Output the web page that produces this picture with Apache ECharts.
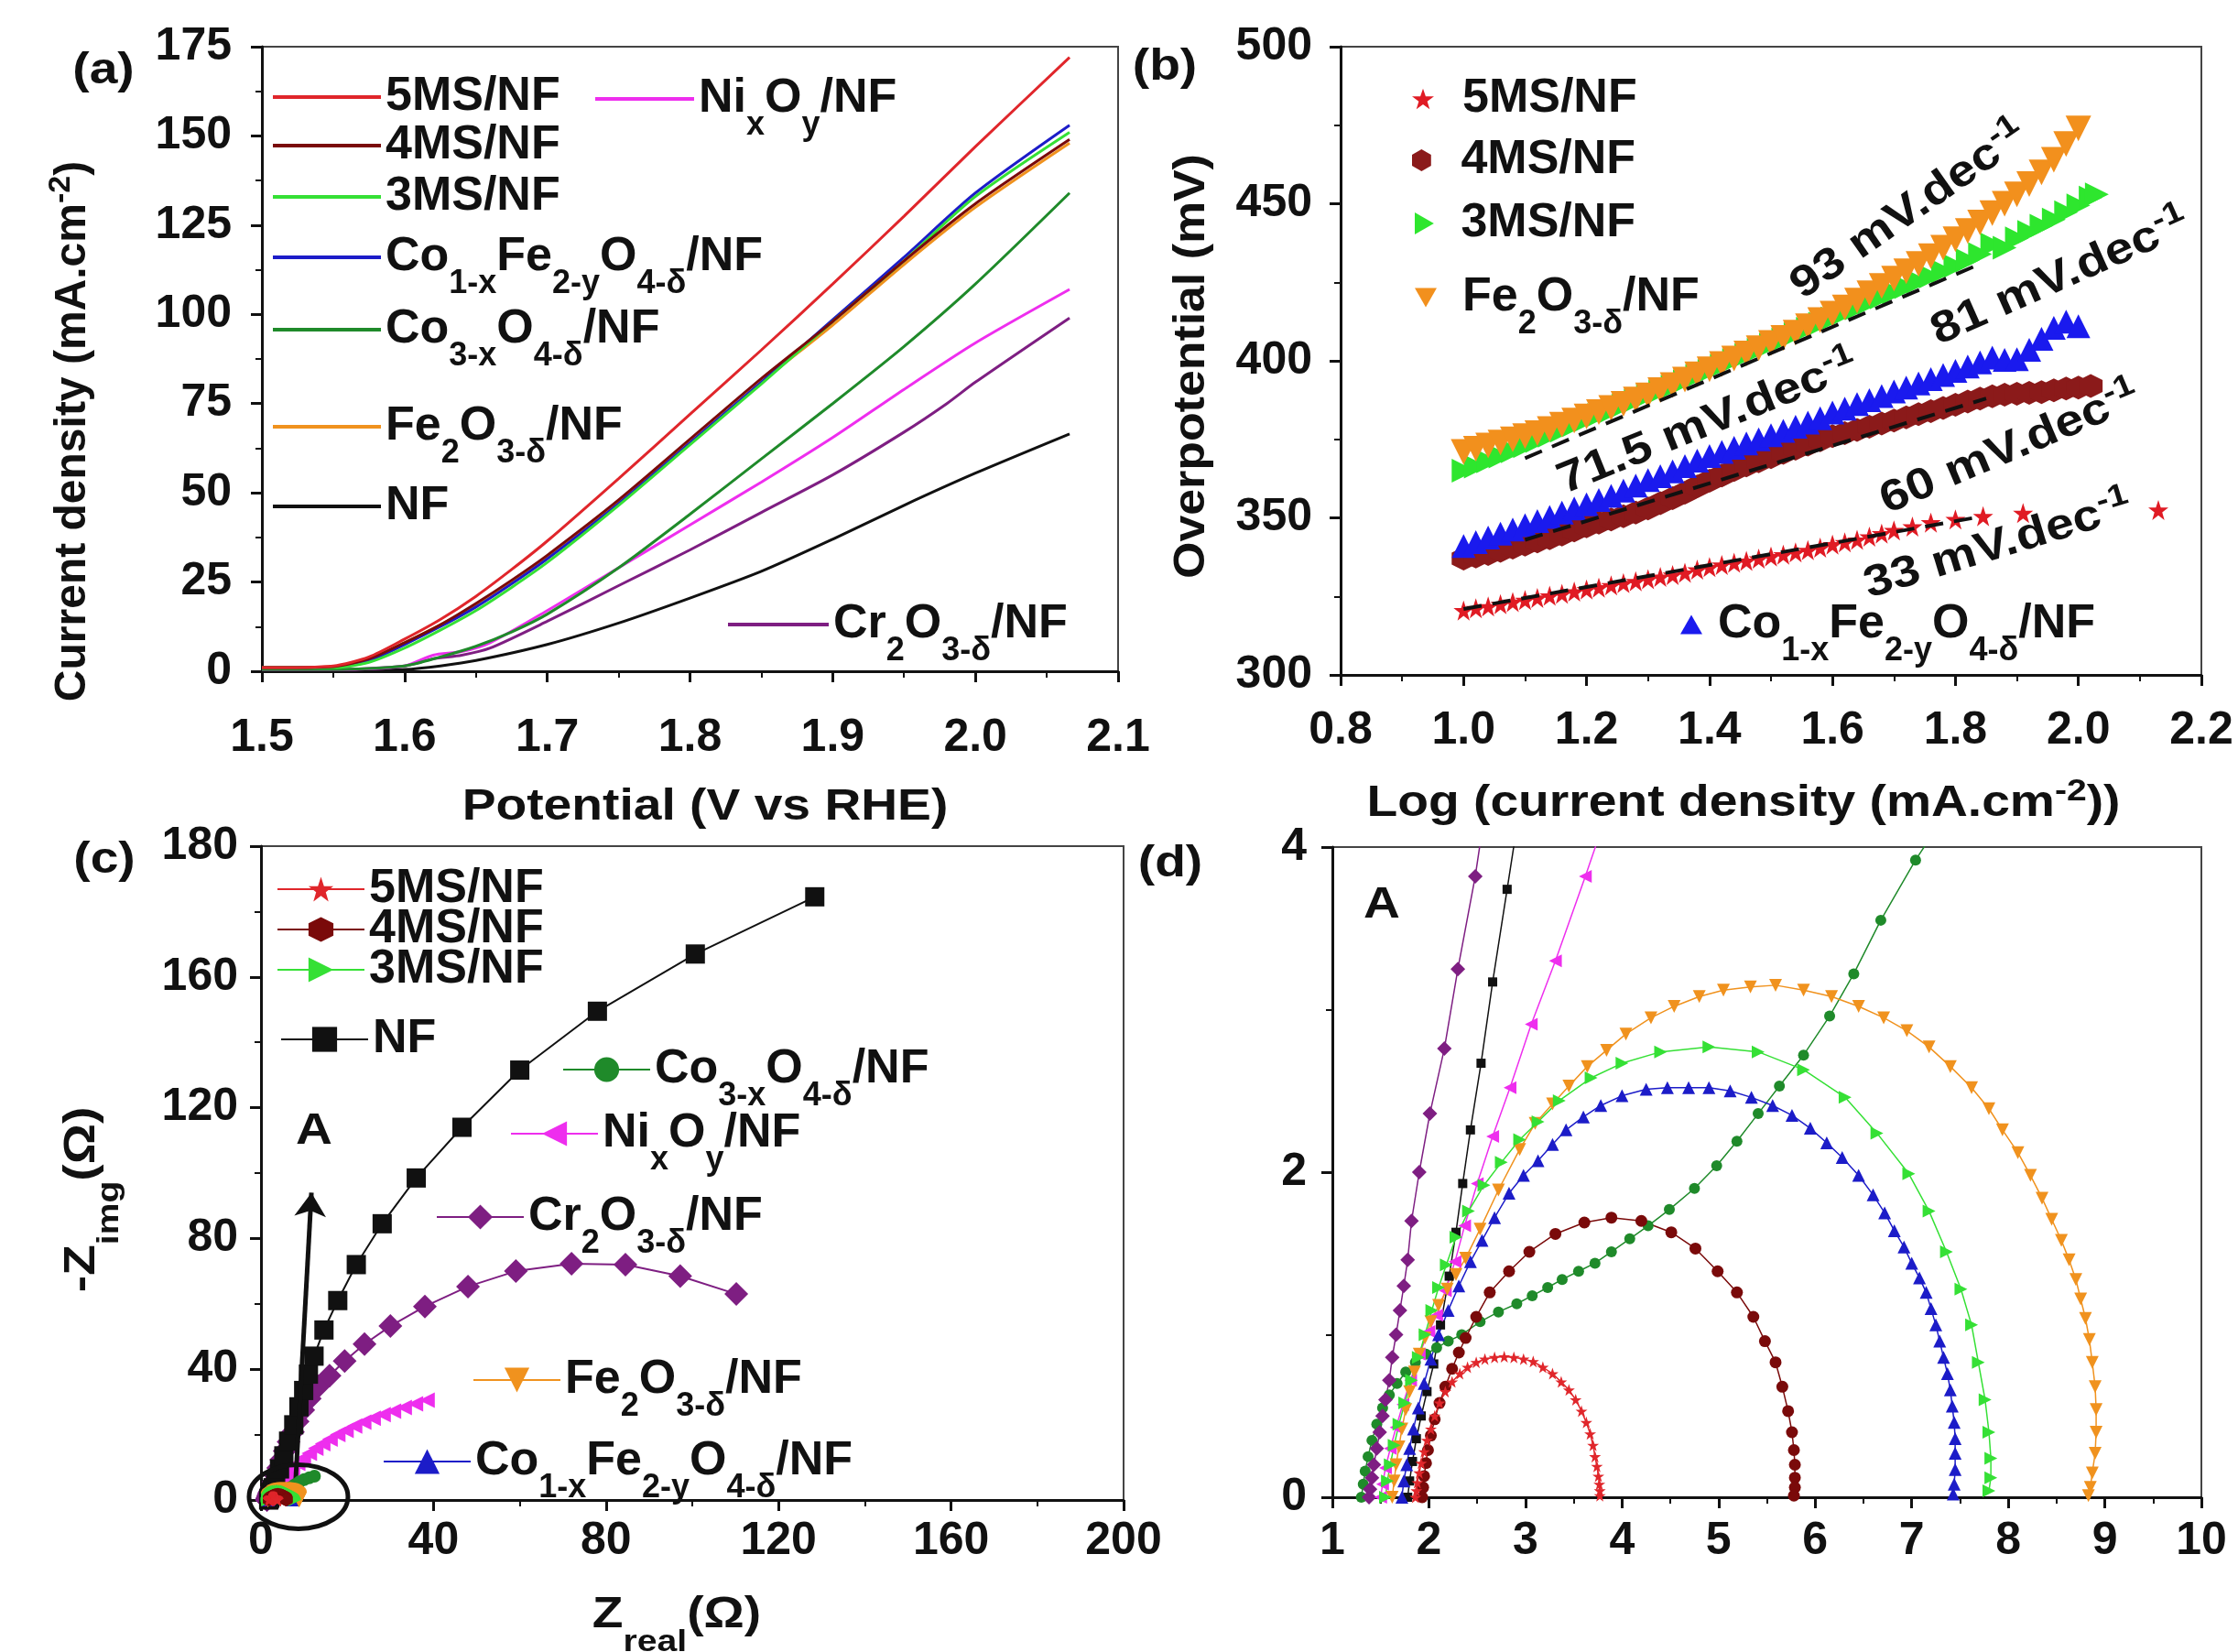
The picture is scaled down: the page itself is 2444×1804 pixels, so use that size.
<!DOCTYPE html>
<html>
<head>
<meta charset="utf-8">
<script src="https://cdn.jsdelivr.net/npm/echarts@6/dist/echarts.min.js"></script>
<style>
html, body { margin: 0; padding: 0; background: #fff; }
#chart { width: 2444px; height: 1804px; }
</style>
</head>
<body>
<div id="chart"></div>
<script>
// (a) LSV: [potential V vs RHE, current density mA/cm2]
const lsv5MS = [[1.5,1],[1.55,1.5],[1.575,4],[1.6,9],[1.625,14.5],[1.65,21],[1.675,28.5],[1.7,36.5],[1.75,54],[1.8,72],[1.85,90],[1.9,108.5],[1.95,127.5],[2.0,147],[2.066,172]];
const lsv4MS = [[1.5,1],[1.55,1.3],[1.575,3.5],[1.6,8],[1.625,13],[1.65,19],[1.675,25.5],[1.7,32.5],[1.75,48],[1.8,65],[1.85,82],[1.9,98],[1.95,115],[2.0,131],[2.066,149]];
const lsv3MS = [[1.5,1],[1.55,1],[1.575,2.5],[1.6,6.5],[1.625,11.5],[1.65,17],[1.675,23.5],[1.7,30.5],[1.75,46.5],[1.8,63.5],[1.85,80.5],[1.9,98],[1.95,115],[2.0,133],[2.066,151]];
const lsvCoFe = [[1.5,1],[1.55,1.2],[1.575,3],[1.6,7.5],[1.625,12.5],[1.65,18],[1.675,24.5],[1.7,31.5],[1.75,47],[1.8,64],[1.85,81],[1.9,98.5],[1.95,116],[2.0,134],[2.066,153]];
const lsvCo3 = [[1.5,0.5],[1.55,0.5],[1.6,1.5],[1.625,4],[1.65,7],[1.675,11],[1.7,16],[1.75,29],[1.8,44],[1.85,59.5],[1.9,75],[1.95,91],[2.0,108.5],[2.066,134]];
const lsvFe = [[1.5,1],[1.55,1.3],[1.575,3.5],[1.6,8],[1.625,13],[1.65,18.5],[1.675,25],[1.7,32],[1.75,47.5],[1.8,64],[1.85,81],[1.9,97],[1.95,114],[2.0,130],[2.066,148]];
const lsvNF = [[1.5,0],[1.55,0],[1.6,0.5],[1.625,1.5],[1.65,3],[1.7,7.5],[1.75,13.5],[1.8,20.5],[1.85,28],[1.9,37],[1.95,46.5],[2.0,55.5],[2.066,66.5]];
const lsvNi = [[1.5,0.5],[1.55,0.5],[1.6,1.5],[1.62,4.5],[1.64,5.5],[1.66,8],[1.7,17],[1.75,29],[1.8,41],[1.85,53],[1.9,65.5],[1.95,79],[2.0,92],[2.066,107]];
const lsvCr = [[1.5,0.5],[1.55,0.5],[1.6,1.5],[1.62,3.5],[1.64,4.5],[1.66,6.5],[1.7,14],[1.75,24],[1.8,34],[1.85,44.5],[1.9,55],[1.95,67],[1.98,75],[2.0,81],[2.066,99]];

// (b) Tafel: [log j, overpotential mV]
const tafel5MS = [[1.0,320.5],[1.02,321.2],[1.04,321.8],[1.06,322.5],[1.08,323.2],[1.1,323.8],[1.12,324.5],[1.14,325.2],[1.16,325.8],[1.18,326.5],[1.2,327.2],[1.22,327.8],[1.24,328.5],[1.26,329.2],[1.28,329.8],[1.3,330.5],[1.32,331.2],[1.34,331.8],[1.36,332.5],[1.38,333.5],[1.4,334.3],[1.42,335],[1.44,335.7],[1.46,336.3],[1.48,337],[1.5,337.7],[1.52,338.3],[1.54,339],[1.56,339.7],[1.58,340.5],[1.6,341.5],[1.62,342.2],[1.64,343],[1.66,344],[1.68,345],[1.7,346],[1.73,347.2],[1.76,348.5],[1.8,349.5],[1.845,350.5],[1.91,351.5],[2.13,352.5]];
const tafel4MS = [[1.0,337],[1.02,337.7],[1.04,338.5],[1.06,339.5],[1.08,340.5],[1.1,341.5],[1.12,342.5],[1.14,343.5],[1.16,344.7],[1.18,346],[1.2,347.3],[1.22,348.5],[1.24,349.5],[1.26,350.5],[1.28,351.7],[1.3,353],[1.32,354.7],[1.34,356.3],[1.36,358],[1.38,360],[1.4,361.8],[1.42,363.5],[1.44,365.2],[1.46,366.7],[1.48,368],[1.5,369.3],[1.52,370.7],[1.54,372],[1.56,373.3],[1.58,374.7],[1.6,376],[1.62,377],[1.64,378],[1.66,379],[1.68,380],[1.7,381],[1.72,382],[1.74,383],[1.76,384],[1.78,385],[1.8,386],[1.82,387],[1.84,388],[1.86,388.7],[1.88,389.2],[1.9,389.5],[1.92,389.8],[1.94,390],[1.96,390.6],[1.98,391.2],[2.0,391.5],[2.02,392]];
const tafelCoFe = [[1.0,341],[1.02,342.3],[1.04,343.7],[1.06,345],[1.08,346.3],[1.1,347.7],[1.12,349],[1.14,350.3],[1.16,351.7],[1.18,353],[1.2,354.3],[1.22,355.7],[1.24,357],[1.26,358.7],[1.28,360.3],[1.3,362],[1.32,363.3],[1.34,364.8],[1.36,366.5],[1.38,368.2],[1.4,369.7],[1.42,371],[1.44,372.3],[1.46,373.7],[1.48,375],[1.5,376.3],[1.52,377.7],[1.54,379],[1.56,380.3],[1.58,381.7],[1.6,383.5],[1.62,384.8],[1.64,386.2],[1.66,387.5],[1.68,388.8],[1.7,390.2],[1.72,391.5],[1.74,392.8],[1.76,394.2],[1.78,395.5],[1.8,396.8],[1.82,398.2],[1.84,399.5],[1.86,401],[1.88,400.3],[1.9,400.5],[1.92,403.5],[1.94,407],[1.96,410.5],[1.98,412.5],[2.0,411]];
const tafel3MS = [[1.0,365],[1.02,366.3],[1.04,368],[1.06,369.5],[1.08,371.2],[1.1,372.8],[1.12,374.5],[1.14,376.2],[1.16,377.8],[1.18,379.5],[1.2,381.2],[1.22,382.7],[1.24,384],[1.26,385.7],[1.28,387.3],[1.3,389],[1.32,390.3],[1.34,391.8],[1.36,393.5],[1.38,395.2],[1.4,396.8],[1.42,398.5],[1.44,400.2],[1.46,401.8],[1.48,403.5],[1.5,405.2],[1.52,406.8],[1.54,408.5],[1.56,410.2],[1.58,411.8],[1.6,413.5],[1.62,415.2],[1.64,416.8],[1.66,418.5],[1.68,420.2],[1.7,421.8],[1.72,423.5],[1.74,425.2],[1.76,426.8],[1.78,428.5],[1.8,430.2],[1.82,432],[1.84,434],[1.86,437],[1.88,436],[1.9,439],[1.92,441],[1.94,443],[1.96,445],[1.98,447.3],[2.0,449.5],[2.02,452],[2.03,453]];
const tafelFe = [[1.0,371],[1.02,372],[1.04,373],[1.06,374],[1.08,375],[1.1,376],[1.12,377],[1.14,378.3],[1.16,379.7],[1.18,381],[1.2,382.3],[1.22,383.7],[1.24,385],[1.26,386.3],[1.28,387.7],[1.3,389],[1.32,390.7],[1.34,392.3],[1.36,394],[1.38,395.7],[1.4,397.3],[1.42,399],[1.44,400.7],[1.46,402.3],[1.48,404],[1.5,405.7],[1.52,407.3],[1.54,409],[1.56,411],[1.58,413],[1.6,415],[1.62,417],[1.64,419.2],[1.66,421.5],[1.68,423.8],[1.7,426.2],[1.72,428.5],[1.74,430.8],[1.76,433.3],[1.78,436],[1.8,438.7],[1.82,441.3],[1.84,444],[1.86,447],[1.88,450],[1.9,453],[1.92,456.3],[1.94,460],[1.96,464],[1.98,469],[2.0,474]];
const fitFe = [[1.1,369],[1.83,430]];
const fit4MS = [[1.1,343],[1.85,388]];
const fit5MS = [[1.0,321],[1.83,350]];

// (d) Nyquist close-up: [Z real, -Z img] in ohm; tails extend them for (c)
const nyq5MS = [[1.86,0],[1.87,0.04],[1.88,0.09],[1.9,0.15],[1.92,0.21],[1.95,0.28],[1.98,0.35],[2.02,0.42],[2.06,0.5],[2.11,0.58],[2.17,0.65],[2.24,0.71],[2.32,0.76],[2.4,0.8],[2.49,0.83],[2.58,0.85],[2.68,0.86],[2.78,0.865],[2.88,0.86],[2.98,0.85],[3.08,0.835],[3.18,0.8],[3.28,0.76],[3.37,0.71],[3.45,0.66],[3.52,0.6],[3.58,0.53],[3.63,0.46],[3.67,0.39],[3.7,0.32],[3.72,0.25],[3.74,0.19],[3.755,0.13],[3.765,0.08],[3.77,0.04],[3.77,0.01]];
const nyq4MS = [[1.93,0],[1.94,0.06],[1.95,0.13],[1.97,0.21],[1.99,0.29],[2.02,0.38],[2.06,0.48],[2.11,0.58],[2.17,0.68],[2.24,0.79],[2.31,0.89],[2.38,0.98],[2.49,1.11],[2.63,1.26],[2.83,1.39],[3.04,1.51],[3.31,1.62],[3.61,1.69],[3.89,1.72],[4.2,1.7],[4.51,1.63],[4.76,1.53],[4.99,1.39],[5.19,1.26],[5.36,1.11],[5.48,0.96],[5.59,0.83],[5.66,0.68],[5.72,0.53],[5.76,0.4],[5.78,0.29],[5.79,0.2],[5.79,0.12],[5.79,0.06],[5.78,0.01]];
const nyq3MS = [[1.55,0],[1.57,0.1],[1.6,0.2],[1.64,0.32],[1.69,0.45],[1.75,0.58],[1.82,0.72],[1.89,0.86],[1.96,1.0],[2.03,1.15],[2.1,1.29],[2.18,1.43],[2.28,1.6],[2.41,1.76],[2.57,1.92],[2.75,2.06],[2.94,2.2],[3.13,2.31],[3.35,2.44],[3.68,2.58],[4.0,2.67],[4.4,2.74],[4.9,2.77],[5.41,2.74],[5.88,2.63],[6.31,2.46],[6.64,2.24],[6.97,1.99],[7.18,1.76],[7.36,1.51],[7.51,1.28],[7.62,1.06],[7.69,0.83],[7.76,0.6],[7.8,0.4],[7.82,0.24],[7.82,0.12],[7.8,0.04]];
const nyqCoFe = [[1.72,0],[1.74,0.1],[1.77,0.2],[1.8,0.3],[1.84,0.42],[1.89,0.55],[1.95,0.7],[2.02,0.85],[2.1,1.0],[2.2,1.15],[2.31,1.3],[2.43,1.45],[2.55,1.58],[2.68,1.72],[2.83,1.87],[2.98,1.98],[3.13,2.07],[3.28,2.17],[3.42,2.26],[3.6,2.34],[3.78,2.41],[4.0,2.47],[4.25,2.51],[4.47,2.52],[4.69,2.52],[4.9,2.52],[5.12,2.5],[5.34,2.46],[5.56,2.41],[5.76,2.35],[5.95,2.27],[6.12,2.18],[6.28,2.09],[6.45,1.98],[6.6,1.86],[6.72,1.75],[6.82,1.64],[6.92,1.54],[7.0,1.44],[7.08,1.35],[7.15,1.26],[7.2,1.16],[7.25,1.06],[7.29,0.96],[7.33,0.86],[7.37,0.76],[7.4,0.66],[7.42,0.56],[7.44,0.46],[7.45,0.36],[7.45,0.27],[7.45,0.17],[7.44,0.08],[7.43,0.02]];
const nyqFe = [[1.62,0],[1.64,0.1],[1.66,0.2],[1.69,0.31],[1.72,0.42],[1.76,0.54],[1.8,0.65],[1.85,0.77],[1.9,0.88],[1.96,0.98],[2.02,1.08],[2.1,1.18],[2.19,1.28],[2.28,1.37],[2.38,1.47],[2.53,1.65],[2.72,1.89],[2.94,2.14],[3.1,2.3],[3.28,2.42],[3.45,2.53],[3.64,2.65],[3.84,2.75],[4.04,2.85],[4.3,2.95],[4.54,3.02],[4.8,3.08],[5.05,3.12],[5.33,3.14],[5.59,3.15],[5.88,3.12],[6.17,3.08],[6.45,3.02],[6.71,2.95],[6.95,2.87],[7.18,2.77],[7.4,2.65],[7.62,2.52],[7.8,2.39],[7.94,2.26],[8.1,2.12],[8.23,1.98],[8.35,1.84],[8.45,1.71],[8.55,1.58],[8.63,1.46],[8.7,1.34],[8.75,1.22],[8.8,1.1],[8.84,0.97],[8.87,0.83],[8.9,0.68],[8.91,0.54],[8.91,0.4],[8.9,0.27],[8.87,0.15],[8.85,0.06],[8.83,0.01]];
const nyqCo3 = [[1.3,0],[1.32,0.08],[1.34,0.16],[1.37,0.25],[1.41,0.35],[1.46,0.45],[1.52,0.55],[1.59,0.63],[1.67,0.7],[1.76,0.77],[1.86,0.83],[1.97,0.88],[2.08,0.92],[2.2,0.96],[2.34,1.0],[2.53,1.08],[2.72,1.14],[2.91,1.19],[3.07,1.24],[3.23,1.29],[3.38,1.34],[3.55,1.39],[3.72,1.44],[3.89,1.51],[4.08,1.59],[4.27,1.67],[4.49,1.77],[4.75,1.9],[4.98,2.04],[5.19,2.19],[5.41,2.36],[5.63,2.53],[5.88,2.72],[6.15,2.96],[6.4,3.22],[6.68,3.55],[7.04,3.92]];
const nyqCr = [[1.38,0],[1.39,0.05],[1.41,0.12],[1.43,0.2],[1.46,0.3],[1.49,0.4],[1.52,0.5],[1.55,0.6],[1.59,0.72],[1.62,0.86],[1.66,1.0],[1.7,1.15],[1.74,1.3],[1.78,1.46],[1.82,1.7],[1.9,2.0],[2.01,2.36],[2.16,2.76],[2.3,3.25],[2.48,3.82]];
const nyqNF = [[1.78,0],[1.8,0.1],[1.83,0.22],[1.87,0.36],[1.92,0.5],[1.98,0.65],[2.05,0.82],[2.12,1.06],[2.21,1.36],[2.28,1.63],[2.35,1.93],[2.43,2.26],[2.54,2.67],[2.66,3.17],[2.81,3.74]];
const nyqNi = [[1.5,0],[1.52,0.08],[1.55,0.18],[1.6,0.3],[1.66,0.43],[1.73,0.57],[1.81,0.72],[1.9,0.88],[2.0,1.02],[2.08,1.12],[2.17,1.27],[2.27,1.45],[2.37,1.67],[2.5,1.93],[2.66,2.22],[2.84,2.52],[3.06,2.91],[3.31,3.3],[3.62,3.82]];
const co3Tail = [[7.9,4.7],[8.9,5.5],[10,6.2],[11.2,6.8],[12.4,7.3]];
const crTail = [[2.9,5.5],[3.4,7.5],[4,9.8],[4.7,12.3],[5.5,15],[6.4,17.8],[7.4,20.8],[8.5,24],[9.8,27.5],[11.3,31],[13.3,34.7],[15.9,38],[19.4,42.5],[24,47.7],[30,53.2],[38,59.2],[48,65.3],[59.1,70],[72,72.3],[84.5,72],[97.2,68.5],[110.2,63]];
const nfTail = [[3.4,6],[4.3,9.5],[5.3,13.5],[6.4,18],[7.6,23],[8.8,28.5],[9.9,33.5],[11,38.5],[12.3,44],[14.6,52],[17.8,61],[22.1,72],[28.1,84.5],[36,98.5],[46.6,114],[60,131.5],[78,149.5],[100.7,167],[128.4,184.5]];
const niTail = [[4.3,5],[5.2,6.5],[6.2,8],[7.3,9.6],[8.5,11.2],[9.8,12.8],[11.2,14.3],[12.7,15.8],[14.3,17.2],[16,18.6],[17.8,20],[19.7,21.3],[21.7,22.6],[23.8,23.8],[26,25],[28.3,26.1],[30.7,27.2],[33.2,28.3],[35.8,29.4],[38.5,30.5]];
const arrowA = [[8,5],[11.7,94]];

// tick labels of the (c) y axis as printed (top one reads 180)
const nyqYTicks = ['0', '40', '80', '120', '160', '180'];

const NAMES = {
  '5MS': '5MS/NF', '4MS': '4MS/NF', '3MS': '3MS/NF',
  'CoFe': 'Co_{1-x}Fe_{2-y}O_{4-δ}/NF', 'Co3': 'Co_{3-x}O_{4-δ}/NF',
  'Fe': 'Fe_{2}O_{3-δ}/NF', 'NF': 'NF', 'Ni': 'Ni_{x}O_{y}/NF', 'Cr': 'Cr_{2}O_{3-δ}/NF'
};

const FONT = 'Liberation Sans';
const C5 = '#e0262b', C4 = '#7a0a0a', C3 = '#35e035', CCoFe = '#1c1cc8', CCo3 = '#1f8a2a',
      CFe = '#f0921e', CNF = '#111111', CNi = '#ee2eee', CCr = '#7e1e82';
const STAR = 'path://M50,0 L61.8,35.1 L98.5,35.1 L68.8,56.8 L79.4,91.9 L50,70.3 L20.6,91.9 L31.2,56.8 L1.5,35.1 L38.2,35.1 Z';
const HEX = 'path://M50,0 L93.3,25 L93.3,75 L50,100 L6.7,75 L6.7,25 Z';
const TRI_UP = 'path://M50,0 L100,87 L0,87 Z';
const TRI_DOWN = 'path://M0,0 L100,0 L50,87 Z';
const TRI_RIGHT = 'path://M0,0 L87,50 L0,100 Z';
const TRI_LEFT = 'path://M87,0 L0,50 L87,100 Z';

// 'Co_{1-x}Fe' -> '{n|Co}{s|1-x}{n|Fe}', '^{..}' -> superscript
function toRich(s) {
  return s.replace(/_\{([^}]*)\}|\^\{([^}]*)\}|([^_^]+)/g, function (m, sub, sup, t) {
    if (sub != null) return '{s|' + sub + '}';
    if (sup != null) return '{p|' + sup + '}';
    return '{n|' + t + '}';
  });
}
function lineHeightFor(s) {
  return s.indexOf('_') >= 0 ? 94 : (s.indexOf('^') >= 0 ? 60 : 56);
}
function ecRich(main, small, lh) {
  const base = { fontFamily: FONT, fontWeight: 'bold', color: '#111' };
  return {
    n: Object.assign({ fontSize: main, lineHeight: lh }, base),
    s: Object.assign({ fontSize: small, verticalAlign: 'bottom' }, base),
    p: Object.assign({ fontSize: small, verticalAlign: 'top' }, base)
  };
}
function zrRich(main, small, lh) {
  const base = { fontFamily: FONT, fontWeight: 'bold', fill: '#111' };
  return {
    n: Object.assign({ fontSize: main, lineHeight: lh }, base),
    s: Object.assign({ fontSize: small, verticalAlign: 'bottom' }, base),
    p: Object.assign({ fontSize: small, verticalAlign: 'top' }, base)
  };
}

function valAxis(gridIndex, min, max, interval, margin, formatter) {
  return {
    type: 'value', gridIndex: gridIndex, min: min, max: max, interval: interval,
    axisLine: { show: true, onZero: false, lineStyle: { color: '#111', width: 3 } },
    axisTick: { show: true, inside: false, length: 12, lineStyle: { color: '#111', width: 3 } },
    minorTick: { show: true, splitNumber: 2, length: 7, lineStyle: { color: '#111', width: 2 } },
    splitLine: { show: false },
    axisLabel: {
      margin: margin, fontSize: 50, fontFamily: FONT, fontWeight: 'bold', color: '#111',
      showMinLabel: true, showMaxLabel: true, formatter: formatter
    }
  };
}

function lineA(key, data, color) {
  return { type: 'line', name: key, xAxisIndex: 0, yAxisIndex: 0, data: data, symbol: 'none',
    smooth: 0.25, lineStyle: { width: 3, color: color }, itemStyle: { color: color }, silent: true };
}
function scatB(key, data, color, symbol, size) {
  return { type: 'scatter', name: key, xAxisIndex: 1, yAxisIndex: 1, data: data, symbol: symbol,
    symbolSize: size, itemStyle: { color: color, opacity: 1 }, silent: true };
}
function fitB(data) {
  return { type: 'line', xAxisIndex: 1, yAxisIndex: 1, data: data, symbol: 'none', z: 5, silent: true,
    lineStyle: { color: '#111', width: 4, type: [20, 12] } };
}
function nyq(gi, key, data, color, symbol, size, lw, z) {
  return { type: 'line', name: key, xAxisIndex: gi, yAxisIndex: gi, data: data, symbol: symbol,
    symbolSize: size, showSymbol: true, showAllSymbol: true, clip: true,
    lineStyle: { width: lw || 1.5, color: color }, itemStyle: { color: color }, z: z || 2, silent: true };
}

// one legend component per entry, yc = vertical centre of the entry
function legendItem(key, left, yc, iw, ih, icon, padLeft) {
  const label = NAMES[key.split(':')[1]];
  const lh = lineHeightFor(label);
  const o = {
    data: [key], left: left, top: yc - Math.max(24, ih / 2), padding: 0, itemGap: 0,
    itemWidth: iw, itemHeight: ih, selectedMode: false,
    formatter: function (n) { return toRich(NAMES[n.split(':')[1]]); },
    textStyle: {
      fontSize: 52, fontFamily: FONT, fontWeight: 'bold', color: '#111',
      padding: [0, 0, 0, padLeft || 0], rich: ecRich(52, 36, lh)
    }
  };
  if (icon) o.icon = icon;
  return o;
}

// sx stretches the text along its own reading direction
function gText(str, x, y, rot, sx) {
  const main = 48;
  return {
    type: 'text', x: x, y: y, rotation: rot || 0, scaleX: sx || 1.15, z: 100, silent: true,
    style: {
      text: toRich(str), rich: zrRich(main, 34, lineHeightFor(str)),
      align: 'center', verticalAlign: 'middle', fill: '#111',
      font: 'bold ' + main + 'px "' + FONT + '"'
    }
  };
}

const gridStyle = { show: true, borderColor: '#444', borderWidth: 2, containLabel: false, outerBoundsMode: 'none' };

const chart = echarts.init(document.getElementById('chart'), null, { renderer: 'canvas' });

const option = {
  animation: false,
  backgroundColor: '#fff',
  grid: [
    Object.assign({ left: 286, top: 51, width: 935, height: 682 }, gridStyle),
    Object.assign({ left: 1464, top: 51, width: 940, height: 686 }, gridStyle),
    Object.assign({ left: 285, top: 924, width: 942, height: 714 }, gridStyle),
    Object.assign({ left: 1455, top: 925, width: 949, height: 710 }, gridStyle)
  ],
  xAxis: [
    valAxis(0, 1.5, 2.1, 0.1, 48, function (v) { return v.toFixed(1); }),
    valAxis(1, 0.8, 2.2, 0.2, 36, function (v) { return v.toFixed(1); }),
    valAxis(2, 0, 200, 40, 20),
    valAxis(3, 1, 10, 1, 23)
  ],
  yAxis: [
    valAxis(0, 0, 175, 25, 33),
    valAxis(1, 300, 500, 50, 31),
    valAxis(2, 0, 200, 40, 25, function (v, i) { return nyqYTicks[i]; }),
    valAxis(3, 0, 4, 2, 28)
  ],
  legend: [
    // (a)
    legendItem('a:5MS', 298, 104, 118, 4, 'rect'),
    legendItem('a:4MS', 298, 157, 118, 4, 'rect'),
    legendItem('a:3MS', 298, 213, 118, 4, 'rect'),
    legendItem('a:CoFe', 298, 279, 118, 4, 'rect'),
    legendItem('a:Co3', 298, 358, 118, 4, 'rect'),
    legendItem('a:Fe', 298, 464, 118, 4, 'rect'),
    legendItem('a:NF', 298, 551, 118, 4, 'rect'),
    legendItem('a:Ni', 650, 106, 108, 4, 'rect'),
    legendItem('a:Cr', 795, 680, 110, 4, 'rect'),
    // (b)
    legendItem('b:5MS', 1542, 106, 24, 24, null, 26),
    legendItem('b:4MS', 1542, 173, 24, 24, null, 26),
    legendItem('b:3MS', 1545, 242, 24, 24, null, 23),
    legendItem('b:Fe', 1545, 323, 24, 24, null, 23),
    legendItem('b:CoFe', 1835, 680, 24, 24, null, 12),
    // (c)
    legendItem('c:5MS', 302, 969, 95, 34),
    legendItem('c:4MS', 302, 1013, 95, 34),
    legendItem('c:3MS', 302, 1057, 95, 34),
    legendItem('c:NF', 306, 1133, 95, 34),
    legendItem('c:Co3', 614, 1166, 95, 34),
    legendItem('c:Ni', 557, 1236, 95, 34),
    legendItem('c:Cr', 476, 1327, 95, 34),
    legendItem('c:Fe', 516, 1505, 95, 34),
    legendItem('c:CoFe', 418, 1594, 95, 34)
  ],
  series: [
    // (a)
    lineA('a:NF', lsvNF, CNF), lineA('a:Cr', lsvCr, CCr), lineA('a:Ni', lsvNi, CNi),
    lineA('a:Co3', lsvCo3, CCo3), lineA('a:Fe', lsvFe, CFe), lineA('a:CoFe', lsvCoFe, CCoFe),
    lineA('a:3MS', lsv3MS, C3), lineA('a:4MS', lsv4MS, C4), lineA('a:5MS', lsv5MS, C5),
    // (b)
    scatB('b:4MS', tafel4MS, '#8b1a1a', HEX, 26),
    scatB('b:CoFe', tafelCoFe, '#1a1aee', TRI_UP, 26),
    scatB('b:5MS', tafel5MS, '#e01b24', STAR, 22),
    scatB('b:3MS', tafel3MS, '#2ee62e', TRI_RIGHT, 26),
    scatB('b:Fe', tafelFe, '#f2901d', TRI_DOWN, 28),
    fitB(fitFe), fitB(fit4MS), fitB(fit5MS),
    // (c)
    nyq(2, 'c:Cr', nyqCr.concat(crTail), CCr, 'diamond', 26, 2, 2),
    nyq(2, 'c:Ni', nyqNi.concat(niTail), CNi, TRI_LEFT, 17, 2, 3),
    Object.assign(nyq(2, 'c:NF', nyqNF.concat(nfTail), CNF, 'rect', 21, 2, 4), {
      markLine: {
        silent: true, symbol: ['none', 'arrow'], symbolSize: 26,
        lineStyle: { color: '#111', width: 5, type: 'solid' }, label: { show: false },
        data: [[{ coord: arrowA[0] }, { coord: arrowA[1] }]]
      }
    }),
    nyq(2, 'c:Co3', nyqCo3.concat(co3Tail), CCo3, 'circle', 14, 1.5, 5),
    nyq(2, 'c:CoFe', nyqCoFe, CCoFe, TRI_UP, 14, 1.5, 5),
    nyq(2, 'c:Fe', nyqFe, CFe, TRI_DOWN, 16, 1.5, 5),
    nyq(2, 'c:3MS', nyq3MS, C3, TRI_RIGHT, 14, 1.5, 5),
    nyq(2, 'c:4MS', nyq4MS, C4, HEX, 14, 1.5, 5),
    nyq(2, 'c:5MS', nyq5MS, C5, STAR, 14, 1.5, 5),
    // (d)
    nyq(3, 'd:Co3', nyqCo3.concat(co3Tail), CCo3, 'circle', 12),
    nyq(3, 'd:Cr', nyqCr.concat(crTail), CCr, 'diamond', 16),
    nyq(3, 'd:NF', nyqNF.concat(nfTail), CNF, 'rect', 10),
    nyq(3, 'd:Ni', nyqNi.concat(niTail), CNi, TRI_LEFT, 14),
    nyq(3, 'd:Fe', nyqFe, CFe, TRI_DOWN, 14),
    nyq(3, 'd:CoFe', nyqCoFe, CCoFe, TRI_UP, 14),
    nyq(3, 'd:3MS', nyq3MS, C3, TRI_RIGHT, 14),
    nyq(3, 'd:4MS', nyq4MS, C4, 'circle', 13),
    nyq(3, 'd:5MS', nyq5MS, C5, STAR, 13)
  ]
};

chart.setOption(option);

// annotations: panel tags, axis titles, slopes, circle around the origin in (c)
const ring = chart.convertToPixel({ xAxisIndex: 2, yAxisIndex: 2 }, [8.7, 1]);
chart.setOption({
  graphic: [
    gText('(a)', 113, 78), gText('(b)', 1272, 74), gText('(c)', 114, 940), gText('(d)', 1278, 944),
    gText('A', 343, 1236), gText('A', 1509, 989),
    gText('Current density (mA.cm^{-2})', 80, 471, Math.PI / 2, 1.0),
    gText('Potential (V vs RHE)', 770, 882),
    gText('Overpotential (mV)', 1302, 400, Math.PI / 2, 1.08),
    gText('Log (current density (mA.cm^{-2}))', 1904, 878),
    gText('-Z_{img}(Ω)', 90, 1310, Math.PI / 2, 1.15),
    gText('Z_{real}(Ω)', 739, 1764),
    gText('93 mV.dec^{-1}', 2085, 230, 35 * Math.PI / 180),
    gText('81 mV.dec^{-1}', 2250, 303, 24 * Math.PI / 180),
    gText('71.5 mV.dec^{-1}', 1865, 462, 22 * Math.PI / 180),
    gText('60 mV.dec^{-1}', 2195, 490, 23 * Math.PI / 180),
    gText('33 mV.dec^{-1}', 2182, 596, 17 * Math.PI / 180),
    {
      type: 'ellipse', z: 100, silent: true,
      shape: { cx: ring[0], cy: ring[1], rx: 54, ry: 35 },
      style: { fill: 'none', stroke: '#111', lineWidth: 5 }
    }
  ]
});
</script>
</body>
</html>
